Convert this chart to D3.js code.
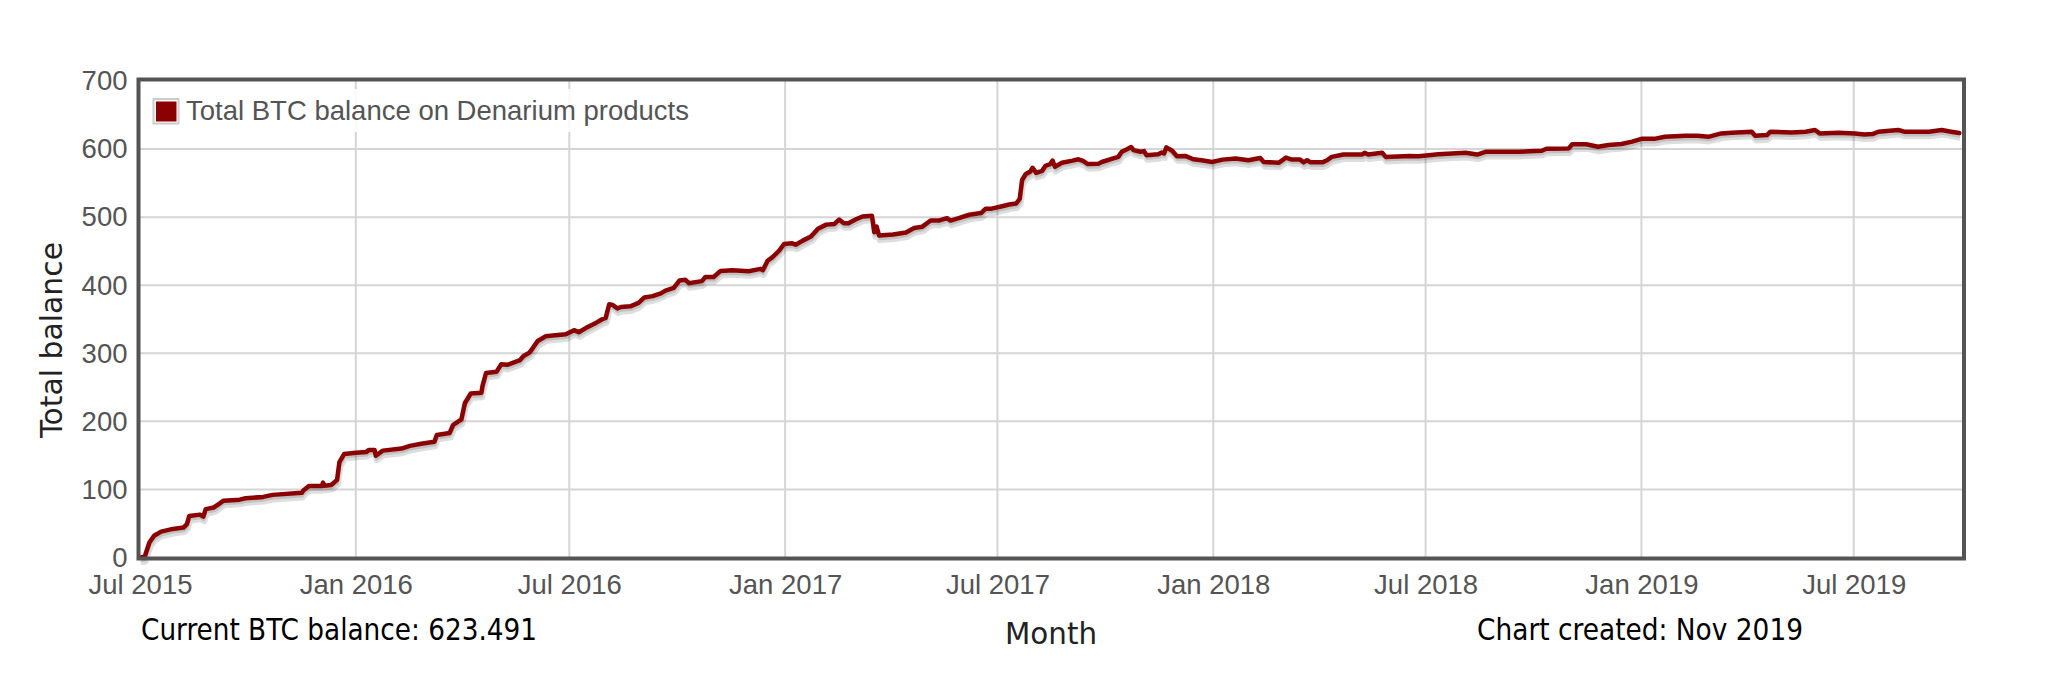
<!DOCTYPE html>
<html>
<head>
<meta charset="utf-8">
<script src="https://cdn.jsdelivr.net/npm/d3@7"></script>
<style>
  html, body { margin: 0; padding: 0; background: #fff; }
  svg { display: block; }
</style>
</head>
<body>
<svg id="chart" width="2050" height="682"></svg>
<script>
// ---------------- DATA ----------------
const seriesName = "Total BTC balance on Denarium products";
const dates = [
"2015-07-01","2015-07-05","2015-07-09","2015-07-13","2015-07-19","2015-07-29","2015-08-07","2015-08-10","2015-08-12","2015-08-21",
"2015-08-24","2015-08-26","2015-09-02","2015-09-07","2015-09-10","2015-09-24","2015-09-29","2015-10-14","2015-10-22","2015-11-16",
"2015-11-17","2015-11-22","2015-12-03","2015-12-04","2015-12-05","2015-12-11","2015-12-16","2015-12-18","2015-12-22","2016-01-01",
"2016-01-10","2016-01-12","2016-01-17","2016-01-18","2016-01-24","2016-02-09","2016-02-16","2016-02-27","2016-03-08","2016-03-10",
"2016-03-21","2016-03-24","2016-03-31","2016-04-03","2016-04-08","2016-04-17","2016-04-18","2016-04-21","2016-04-30","2016-05-04",
"2016-05-09","2016-05-20","2016-05-23","2016-05-28","2016-05-31","2016-06-04","2016-06-11","2016-06-17","2016-06-28","2016-07-05",
"2016-07-09","2016-07-15","2016-07-24","2016-07-29","2016-08-01","2016-08-04","2016-08-07","2016-08-11","2016-08-14","2016-08-22",
"2016-08-29","2016-09-03","2016-09-10","2016-09-17","2016-09-21","2016-09-28","2016-10-03","2016-10-08","2016-10-11","2016-10-22",
"2016-10-25","2016-11-01","2016-11-07","2016-11-17","2016-12-01","2016-12-11","2016-12-13","2016-12-17","2016-12-21","2016-12-27",
"2016-12-31","2017-01-07","2017-01-10","2017-01-16","2017-01-23","2017-01-29","2017-02-05","2017-02-12","2017-02-16","2017-02-20",
"2017-02-24","2017-03-02","2017-03-08","2017-03-16","2017-03-18","2017-03-20","2017-03-22","2017-04-03","2017-04-14","2017-04-21",
"2017-04-28","2017-05-05","2017-05-12","2017-05-19","2017-05-22","2017-05-29","2017-06-07","2017-06-17","2017-06-21","2017-06-26",
"2017-07-05","2017-07-11","2017-07-17","2017-07-20","2017-07-22","2017-07-25","2017-07-29","2017-07-31","2017-08-03","2017-08-08",
"2017-08-11","2017-08-15","2017-08-17","2017-08-19","2017-08-25","2017-09-03","2017-09-08","2017-09-12","2017-09-16","2017-09-25",
"2017-09-28","2017-10-07","2017-10-12","2017-10-15","2017-10-19","2017-10-23","2017-10-25","2017-10-31","2017-11-03","2017-11-05",
"2017-11-15","2017-11-18","2017-11-20","2017-11-22","2017-11-27","2017-12-01","2017-12-08","2017-12-15","2017-12-22","2017-12-31",
"2018-01-09","2018-01-20","2018-01-31","2018-02-10","2018-02-13","2018-02-26","2018-03-04","2018-03-09","2018-03-16","2018-03-19",
"2018-03-22","2018-03-25","2018-04-04","2018-04-08","2018-04-12","2018-04-22","2018-05-08","2018-05-10","2018-05-13","2018-05-25",
"2018-05-28","2018-06-17","2018-06-25","2018-07-12","2018-08-04","2018-08-14","2018-08-21","2018-09-18","2018-10-08","2018-10-12",
"2018-10-31","2018-11-03","2018-11-15","2018-11-25","2018-12-04","2018-12-15","2018-12-24","2019-01-01","2019-01-12","2019-01-21",
"2019-02-07","2019-02-18","2019-02-27","2019-03-10","2019-03-19","2019-04-05","2019-04-08","2019-04-18","2019-04-21","2019-05-09",
"2019-05-21","2019-05-29","2019-06-02","2019-06-18","2019-07-02","2019-07-10","2019-07-17","2019-07-22","2019-08-08","2019-08-13",
"2019-09-03","2019-09-14","2019-09-22","2019-09-29"
];
const balances = [
0,1,22,32,38,42,44,49,61,63,
60,71,73.5,79.5,83.5,85,87,89,92,95,
98,105,105,110,105.5,106.5,114,140,152,154,
155,158,158,149.5,157,160,164,167.5,170,180,
183,195,203,227,241,242,252,271,273,284,
283,290,296,301,308,318,325,326,328,334,
331,337,345,350,352,372,371,366,368,369,
374,382,384,388,392,396,407,408,403,406,
412,412,421,422,420.5,424,422,436,441,451,
460.5,461.5,459.5,465.5,471.5,483,489,490,496.5,491,
491,496.5,501,502,478,486,473,474.5,477.5,484,
486,495,495,498.5,495,498.5,503.5,506,512.5,512.5,
516,518.5,520,527,554.5,563,567,572.5,565,568,
575.5,578,583,574,580,583,585,582.5,578,578.5,
581,586,588.5,596,599.5,603,598.5,596,597,591,
592.5,595,593.5,602.5,597.5,589.5,590,585,583.5,581,
584.5,586,583.5,587,581,580,587.5,584.5,584.5,580.5,
583.5,580.5,580.5,583.5,588.5,592,592,594.5,592,594.5,
588.5,590,589.5,592.5,594.5,592,596,596,597.5,600.5,
601,607,607,603.5,606,607.5,611,615,615,618,
619.5,619.5,618,623,624,625.5,619.5,620.5,625.5,624.5,
625.5,628,623,624,623,621.5,622,625.5,628,625.5,
625.5,628,625.5,623.5
];
const xDomain = ["2015-07-01", "2019-10-03"];
const xTickDates = ["2015-07-01","2016-01-01","2016-07-01","2017-01-01","2017-07-01","2018-01-01","2018-07-01","2019-01-01","2019-07-01"];
const yTicks = [0,100,200,300,400,500,600,700];
const currentBalanceText = "Current BTC balance: 623.491";
const createdText = "Chart created: Nov 2019";
const xTitle = "Month";
const yTitle = "Total balance";

// ---------------- CHART ----------------
(function () {
const parse = d3.utcParse("%Y-%m-%d");
const data = dates.map((d, i) => ({ date: parse(d), value: balances[i] }));

const pLeft = 140, pRight = 1964, pTop = 81, pBottom = 557.5;
const x = d3.scaleUtc().domain(xDomain.map(parse)).range([pLeft, pRight]);
const y = d3.scaleLinear().domain([0, 700]).range([pBottom, pTop]);

const svg = d3.select("#chart");
const tickFont = "'Liberation Sans', Arial, Helvetica, sans-serif";
const titleFont = "'Liberation Sans Narrow', 'DejaVu Sans Condensed', 'Arial Narrow', 'Liberation Sans', sans-serif";

svg.append("rect").attr("width", 2050).attr("height", 682).attr("fill", "#fff");

// gridlines
const grid = svg.append("g").attr("stroke", "#d5d5d5").attr("stroke-width", 2);
grid.selectAll("line.h").data(yTicks.filter(t => t > 0 && t < 700)).join("line").attr("class", "h")
  .attr("x1", pLeft).attr("x2", pRight).attr("y1", d => y(d)).attr("y2", d => y(d));
grid.selectAll("line.v").data(xTickDates.slice(1).map(parse)).join("line").attr("class", "v")
  .attr("y1", pTop).attr("y2", pBottom).attr("x1", d => x(d)).attr("x2", d => x(d));

// line + shadow
const line = d3.line().x(d => x(d.date)).y(d => y(d.value)).curve(d3.curveLinear);
svg.append("path").datum(data).attr("d", line)
  .attr("transform", "translate(0.9,4.6)")
  .attr("fill", "none").attr("stroke", "rgba(0,0,0,0.13)").attr("stroke-width", 6).attr("stroke-linejoin", "round");
svg.append("path").datum(data).attr("d", line)
  .attr("transform", "translate(0.6,3.2)")
  .attr("fill", "none").attr("stroke", "rgba(0,0,0,0.13)").attr("stroke-width", 3).attr("stroke-linejoin", "round");
svg.append("path").datum(data).attr("d", line)
  .attr("fill", "none").attr("stroke", "#8b0000").attr("stroke-width", 4.5)
  .attr("stroke-linejoin", "round").attr("stroke-linecap", "round");

// axes
const yAxis = svg.append("g").attr("transform", `translate(${pLeft - 1.5},0)`)
  .call(d3.axisLeft(y).tickValues(yTicks).tickSize(0).tickPadding(11));
const xAxis = svg.append("g").attr("transform", `translate(0,${pBottom})`)
  .call(d3.axisBottom(x).tickValues(xTickDates.map(parse)).tickFormat(d3.utcFormat("%b %Y")).tickSize(0).tickPadding(17));
[yAxis, xAxis].forEach(a => {
  a.select(".domain").remove();
  a.selectAll("text").attr("font-family", tickFont).attr("font-size", 27.5).attr("fill", "#545454");
});

// border
svg.append("rect").attr("x", 138.5).attr("y", 79.5).attr("width", 1825.5).attr("height", 479)
  .attr("fill", "none").attr("stroke", "#545454").attr("stroke-width", 4);

// legend
const lg = svg.append("g");
lg.append("rect").attr("x", 148).attr("y", 89).attr("width", 552).attr("height", 43)
  .attr("fill", "#fff").attr("opacity", 0.85);
lg.append("rect").attr("x", 153.5).attr("y", 99).attr("width", 25).attr("height", 24.5)
  .attr("fill", "#fff").attr("stroke", "#ccc").attr("stroke-width", 2);
lg.append("rect").attr("x", 156).attr("y", 101.5).attr("width", 20.5).attr("height", 20)
  .attr("fill", "#8b0000");
lg.append("text").attr("x", 186).attr("y", 120).text(seriesName)
  .attr("font-family", tickFont).attr("font-size", 27.5).attr("fill", "#545454")
  .attr("textLength", 503).attr("lengthAdjust", "spacingAndGlyphs");

// titles & notes
svg.append("text").attr("x", 141).attr("y", 640).text(currentBalanceText)
  .attr("font-family", titleFont).attr("font-size", 30).attr("fill", "#000")
  .attr("textLength", 396).attr("lengthAdjust", "spacingAndGlyphs");
svg.append("text").attr("x", 1005).attr("y", 644).text(xTitle)
  .attr("font-family", titleFont).attr("font-size", 30).attr("fill", "#222")
  .attr("textLength", 92).attr("lengthAdjust", "spacingAndGlyphs");
svg.append("text").attr("x", 1477).attr("y", 640).text(createdText)
  .attr("font-family", titleFont).attr("font-size", 30).attr("fill", "#000")
  .attr("textLength", 326).attr("lengthAdjust", "spacingAndGlyphs");
svg.append("text").attr("transform", "translate(62,438) rotate(-90)").text(yTitle)
  .attr("font-family", titleFont).attr("font-size", 31).attr("fill", "#222")
  .attr("textLength", 196).attr("lengthAdjust", "spacingAndGlyphs");
})();
</script>
</body>
</html>
